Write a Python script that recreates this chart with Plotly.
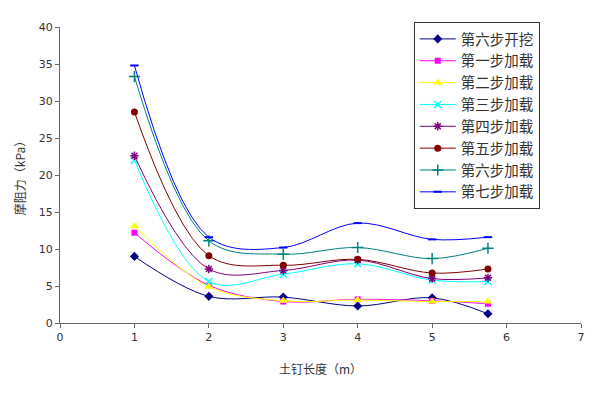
import plotly.graph_objects as go

x_len = [1, 2, 3, 4, 5, 5.75]
names = ["第六步开挖", "第一步加载", "第二步加载", "第三步加载", "第四步加载", "第五步加载", "第六步加载", "第七步加载"]
s0 = [9.0, 3.6, 3.5, 2.3, 3.4, 1.25]
s1 = [12.2, 5.1, 2.9, 3.2, 3.0, 2.6]
s2 = [13.1, 4.9, 3.0, 3.1, 2.9, 2.9]
s3 = [22.0, 5.6, 6.6, 8.0, 5.8, 5.6]
s4 = [22.6, 7.3, 7.1, 8.5, 6.0, 6.1]
s5 = [28.5, 9.1, 7.8, 8.6, 6.75, 7.3]
s6 = [33.3, 11.1, 9.3, 10.2, 8.7, 10.1]
s7 = [34.8, 11.6, 10.2, 13.5, 11.3, 11.6]
series = [s0, s1, s2, s3, s4, s5, s6, s7]
x_ticks = [0, 1, 2, 3, 4, 5, 6, 7]
y_ticks = [0, 5, 10, 15, 20, 25, 30, 35, 40]

colors = ["#000080", "#FF00FF", "#FFFF00", "#00FFFF", "#800080", "#800000", "#008080", "#0000FF"]
symbols = ["diamond", "square", "triangle-up", "x-thin-open", "asterisk-open", "circle", "cross-thin-open", "line-ew-open"]
sizes = [7, 6, 8, 7, 7, 7, 8, 6]
mlw = [0, 0, 0, 1.5, 1.5, 0, 1.5, 2]

fig = go.Figure()
for nm, ys, c, sym, sz, lw in zip(names, series, colors, symbols, sizes, mlw):
    fig.add_trace(go.Scatter(
        x=x_len, y=ys, name=nm, mode="lines+markers",
        line=dict(color=c, width=1, shape="spline", smoothing=1.0),
        marker=dict(color=c, symbol=sym, size=sz, line=dict(color=c, width=lw)),
    ))

font_cn = "Noto Sans CJK SC"
fig.update_layout(
    width=600, height=393,
    margin=dict(l=60, r=19, t=27, b=70, autoexpand=False),
    paper_bgcolor="white", plot_bgcolor="white",
    font=dict(family=font_cn, size=12, color="#333333"),
    showlegend=True,
    legend=dict(
        x=0.679, y=1.017, xanchor="left", yanchor="top",
        bordercolor="#333333", borderwidth=1, bgcolor="white",
        font=dict(family=font_cn, size=14.5, color="#333333"),
        tracegroupgap=0, itemwidth=36,
    ),
    xaxis=dict(
        range=[0, 7], tickvals=x_ticks, showgrid=False, zeroline=False,
        showline=True, linecolor="#666666", linewidth=1, automargin=False,
        ticks="outside", ticklen=4, tickcolor="#666666",
        tickfont=dict(family="DejaVu Sans", size=11, color="#333333"),
        title=dict(text="土钉长度（m）", font=dict(family=font_cn, size=12, color="#333333"), standoff=22),
    ),
    yaxis=dict(
        range=[0, 40], tickvals=y_ticks, showgrid=False, zeroline=False,
        showline=True, linecolor="#666666", linewidth=1, automargin=False,
        ticks="outside", ticklen=4, tickcolor="#666666",
        tickfont=dict(family="DejaVu Sans", size=11, color="#333333"),
        title=dict(text="摩阻力（kPa）", font=dict(family=font_cn, size=12, color="#333333"), standoff=10),
    ),
)

fig.write_html("out.html", config={"displayModeBar": False},
               post_script="document.body.style.margin='0';")
